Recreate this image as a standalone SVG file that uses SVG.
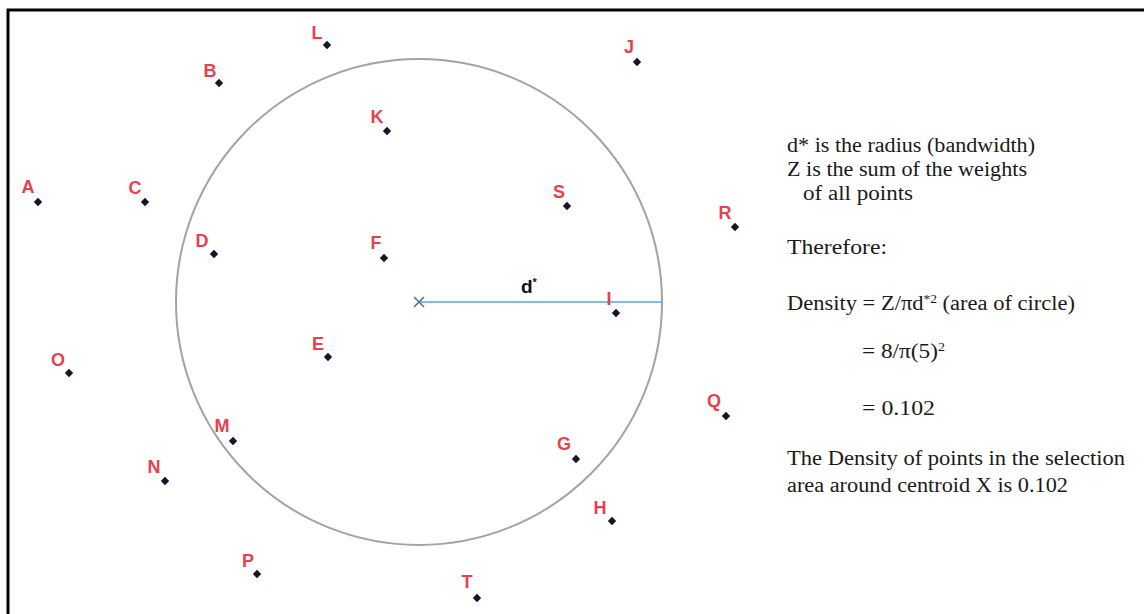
<svg xmlns="http://www.w3.org/2000/svg" width="1144" height="614" viewBox="0 0 1144 614">
<style>
.lbl{font-family:"Liberation Sans",Arial,sans-serif;font-weight:bold;font-size:18px;fill:#e8404f;text-anchor:middle}
.dot{fill:#151530}
.txt{font-family:"Liberation Serif","Times New Roman",serif;font-size:20px;fill:#1a1a1a}
.sup{font-size:12px}
</style>
<defs>
<path id="pt" d="M0,-4.2 L4.2,0 L0,4.2 L-4.2,0 Z" class="dot"/>
</defs>
<rect x="0" y="0" width="1144" height="614" fill="#fff"/>
<path d="M8,614 V10 H1144" fill="none" stroke="#000" stroke-width="3"/>
<g id="circle"><circle cx="419" cy="302" r="243" fill="none" stroke="#a3a3a3" stroke-width="2"/></g>
<g id="connectors">
<line x1="419" y1="302" x2="662" y2="302" stroke="#5ba3dc" stroke-width="1.5"/>
</g>
<g id="centroid">
<path d="M414,297 L424,307 M424,297 L414,307" stroke="#5a7090" stroke-width="1.6"/>
</g>
<g id="dlabel"><text x="521" y="293" font-family="Liberation Sans,Arial,sans-serif" font-weight="bold" font-size="19" fill="#111">d<tspan font-size="11" dy="-7">*</tspan></text></g>
<g id="A"><use href="#pt" x="38" y="202"/><text class="lbl" x="28" y="193">A</text></g>
<g id="B"><use href="#pt" x="219" y="83"/><text class="lbl" x="210" y="77">B</text></g>
<g id="C"><use href="#pt" x="145" y="202"/><text class="lbl" x="135" y="194">C</text></g>
<g id="L"><use href="#pt" x="327" y="45"/><text class="lbl" x="317" y="39">L</text></g>
<g id="K"><use href="#pt" x="387" y="131"/><text class="lbl" x="377" y="123">K</text></g>
<g id="D"><use href="#pt" x="214" y="254"/><text class="lbl" x="202" y="247">D</text></g>
<g id="F"><use href="#pt" x="384" y="258"/><text class="lbl" x="376" y="249">F</text></g>
<g id="E"><use href="#pt" x="328" y="357"/><text class="lbl" x="318" y="350">E</text></g>
<g id="O"><use href="#pt" x="69" y="373"/><text class="lbl" x="58" y="366">O</text></g>
<g id="M"><use href="#pt" x="233" y="441"/><text class="lbl" x="222" y="432">M</text></g>
<g id="N"><use href="#pt" x="165" y="481"/><text class="lbl" x="154" y="473">N</text></g>
<g id="P"><use href="#pt" x="257" y="574"/><text class="lbl" x="248" y="567">P</text></g>
<g id="T"><use href="#pt" x="477" y="598"/><text class="lbl" x="467" y="588">T</text></g>
<g id="G"><use href="#pt" x="576" y="459"/><text class="lbl" x="564" y="450">G</text></g>
<g id="H"><use href="#pt" x="612" y="521"/><text class="lbl" x="600" y="514">H</text></g>
<g id="Q"><use href="#pt" x="726" y="416"/><text class="lbl" x="714" y="407">Q</text></g>
<g id="J"><use href="#pt" x="637" y="62"/><text class="lbl" x="629" y="53">J</text></g>
<g id="S"><use href="#pt" x="567" y="206"/><text class="lbl" x="559" y="198">S</text></g>
<g id="R"><use href="#pt" x="735" y="227"/><text class="lbl" x="725" y="219">R</text></g>
<g id="I"><use href="#pt" x="616" y="313"/><text class="lbl" x="609" y="305">I</text></g>
<g id="explanation">
<text class="txt" x="787" y="152" textLength="248" lengthAdjust="spacingAndGlyphs">d* is the radius (bandwidth)</text>
<text class="txt" x="787" y="176" textLength="240" lengthAdjust="spacingAndGlyphs">Z is the sum of the weights</text>
<text class="txt" x="803" y="200" textLength="110" lengthAdjust="spacingAndGlyphs">of all points</text>
<text class="txt" x="787" y="254" textLength="100" lengthAdjust="spacingAndGlyphs">Therefore:</text>
<text class="txt" x="787" y="310" textLength="288" lengthAdjust="spacingAndGlyphs">Density = Z/πd<tspan class="sup" dy="-7">*2</tspan><tspan dy="7"> (area of circle)</tspan></text>
<text class="txt" x="862" y="358" textLength="83" lengthAdjust="spacingAndGlyphs">= 8/π(5)<tspan class="sup" dy="-7">2</tspan></text>
<text class="txt" x="862" y="415" textLength="73" lengthAdjust="spacingAndGlyphs">= 0.102</text>
<text class="txt" x="787" y="465" textLength="338" lengthAdjust="spacingAndGlyphs">The Density of points in the selection</text>
<text class="txt" x="787" y="492" textLength="281" lengthAdjust="spacingAndGlyphs">area around centroid X is 0.102</text>
</g>
</svg>
